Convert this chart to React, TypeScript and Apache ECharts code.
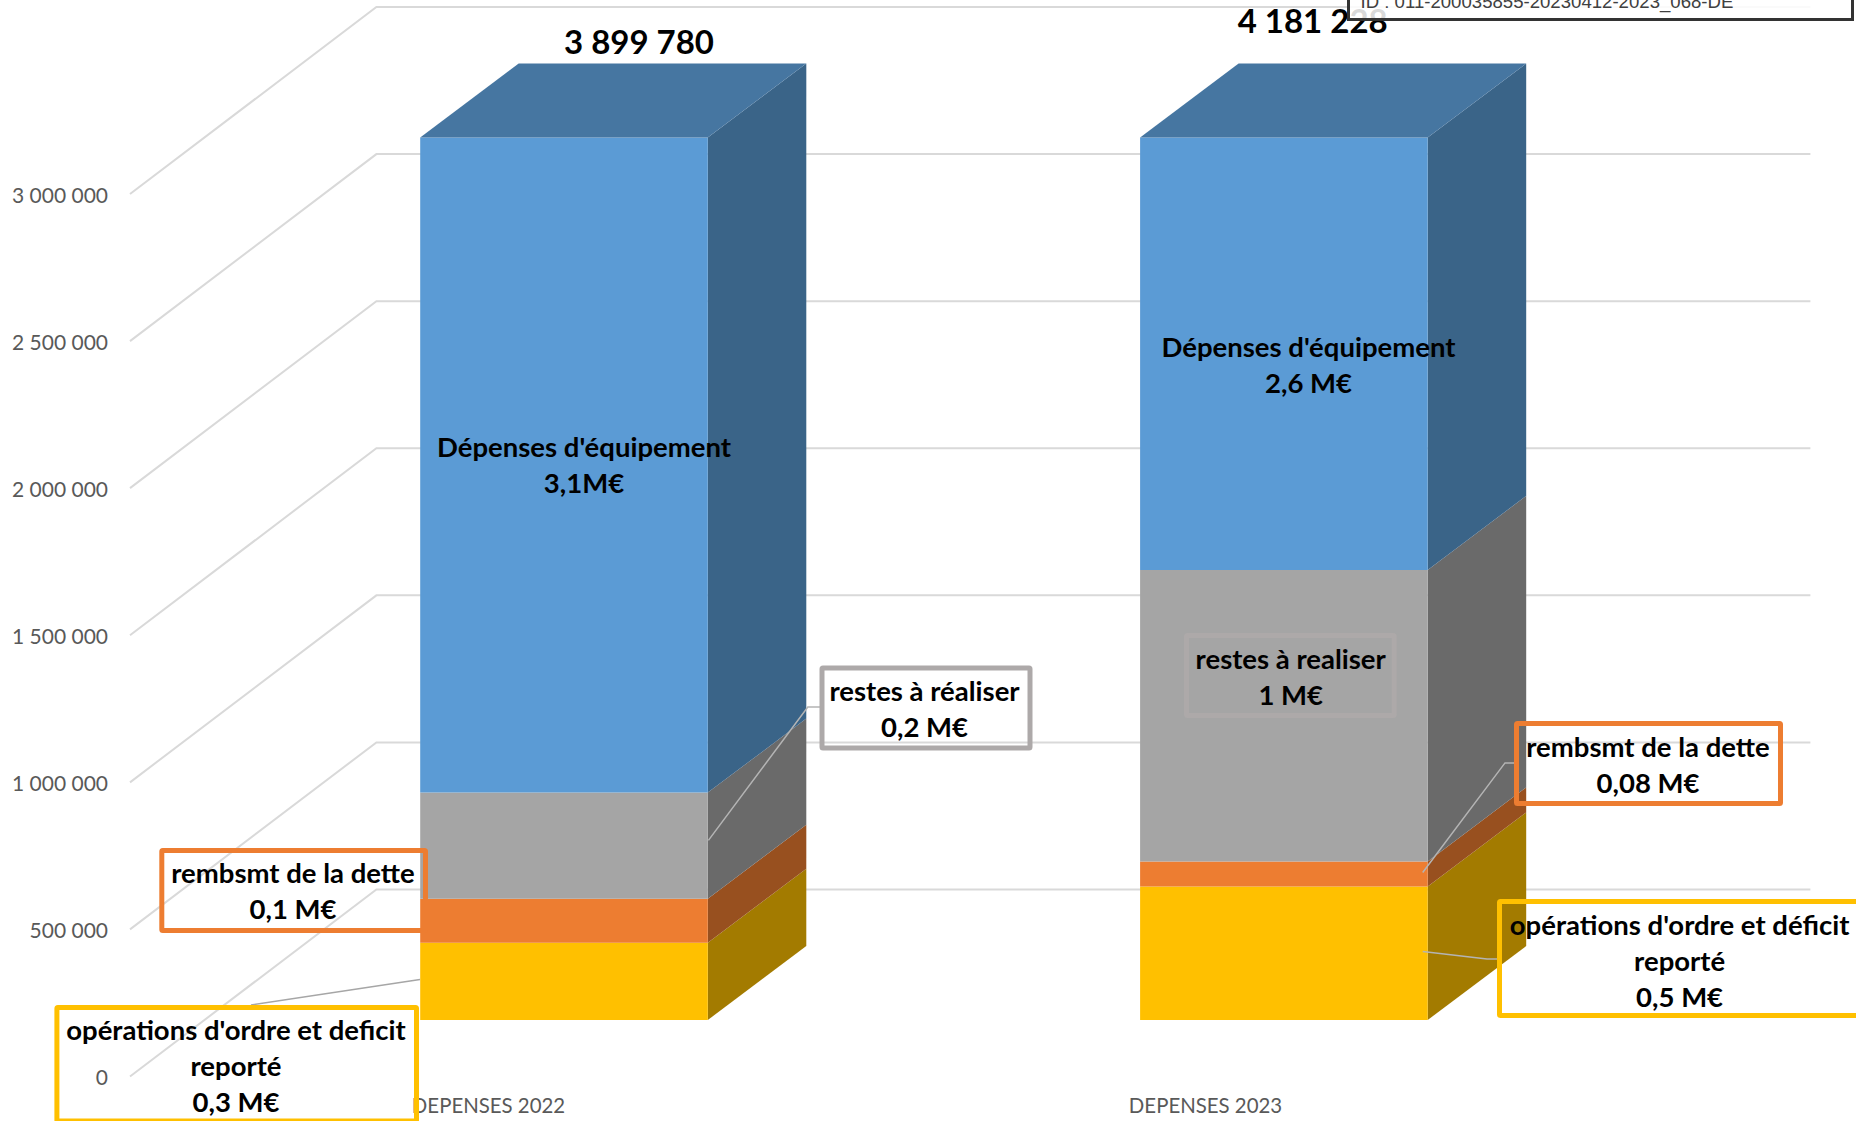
import React, { useEffect, useRef } from "react";
import * as echarts from "echarts";

const categories = ["DEPENSES 2022", "DEPENSES 2023"];
const yTicks = [0, 500000, 1000000, 1500000, 2000000, 2500000, 3000000];
const axisMax = 3000000;

const operations = [263000, 454000];
const remboursement = [149000, 85000];
const restes = [361000, 991000];
const equipement = [3126780, 2651228];
const totals = ["3 899 780", "4 181 228"];

const stackNames = ["opérations d'ordre et déficit reporté", "rembsmt de la dette", "restes à réaliser", "Dépenses d'équipement"];
const stackValues = [operations, remboursement, restes, equipement];
const frontColors = ["#FFC000", "#ED7D31", "#A5A5A5", "#5B9BD5"];
const sideColors = ["#A37B00", "#98501F", "#6A6A6A", "#3A6488"];
const topColor = "#4676A1";

const FONT = "Lato";
const GRID_COLOR = "#D9D9D9";
const WALL_DX = 246.4;
const WALL_DY = 187;
const BAR_SHIFT_X = [75.5, 78.4];
const BAR_SHIFT_Y = 56.5;
const BAR_HALF = 143.8;
const BAR_DX = 98.5;
const BAR_DY = 74;

const fmt = (v: number) => String(v).replace(/\B(?=(\d{3})+(?!\d))/g, " ");

function stackSeries(idx: number) {
  const data = categories.map((_, c) => {
    let base = 0;
    for (let i = 0; i < idx; i++) base += stackValues[i][c];
    return [c, Math.min(base, axisMax), Math.min(base + stackValues[idx][c], axisMax)];
  });
  return {
    type: "custom",
    name: stackNames[idx],
    silent: true,
    z: 3,
    encode: { x: 0, y: [1, 2] },
    data,
    renderItem: (_p: any, api: any) => {
      const c = api.value(0);
      const a = api.coord([c, api.value(1)]);
      const b = api.coord([c, api.value(2)]);
      const x0 = a[0] + BAR_SHIFT_X[c] - BAR_HALF;
      const x1 = a[0] + BAR_SHIFT_X[c] + BAR_HALF;
      const y0 = a[1] - BAR_SHIFT_Y;
      const y1 = b[1] - BAR_SHIFT_Y;
      const children: any[] = [
        {
          type: "polygon",
          shape: { points: [[x1, y0], [x1 + BAR_DX, y0 - BAR_DY], [x1 + BAR_DX, y1 - BAR_DY], [x1, y1]] },
          style: { fill: sideColors[idx] },
        },
        { type: "rect", shape: { x: x0, y: y1, width: x1 - x0, height: y0 - y1 }, style: { fill: frontColors[idx] } },
      ];
      if (idx === stackValues.length - 1) {
        children.push({
          type: "polygon",
          shape: { points: [[x0, y1], [x1, y1], [x1 + BAR_DX, y1 - BAR_DY], [x0 + BAR_DX, y1 - BAR_DY]] },
          style: { fill: topColor },
        });
      }
      return { type: "group", children };
    },
  };
}

const wallSeries = {
  type: "custom",
  name: "grille",
  silent: true,
  z: 1,
  encode: { x: 0, y: 1 },
  data: yTicks.map((t) => [0, t]),
  renderItem: (p: any, api: any) => {
    const y = api.coord([0, api.value(1)])[1];
    const s = p.coordSys;
    return {
      type: "polyline",
      shape: { points: [[s.x, y], [s.x + WALL_DX, y - WALL_DY], [s.x + s.width + WALL_DX, y - WALL_DY]] },
      style: { stroke: GRID_COLOR, lineWidth: 2, fill: "none" },
    };
  },
};

function box(x: number, y: number, w: number, h: number, color: string) {
  return { type: "rect", z: 10, shape: { x, y, width: w, height: h, r: 1 }, style: { fill: "none", stroke: color, lineWidth: 5 } };
}
function label(text: string, cx: number, cy: number, size = 27.5) {
  return {
    type: "text",
    z: 11,
    x: cx,
    y: cy - 1.5,
    style: { text, fontFamily: FONT, fontWeight: "bold", fontSize: size, lineHeight: 36, fill: "#000", align: "center", verticalAlign: "middle" },
  };
}
function leader(points: number[][], color = "#A6A6A6") {
  return { type: "polyline", z: 9, shape: { points }, style: { fill: "none", stroke: color, lineWidth: 1.5 } };
}

const graphics: any[] = [
  leader([[708.4, 840.4], [807.8, 707], [820, 707]], "#B4B4B4"),
  leader([[1422.7, 872.5], [1505, 762.9], [1516, 762.9]], "#B4B4B4"),
  leader([[420, 979.5], [251, 1005]]),
  leader([[1422.7, 951.4], [1487, 959], [1500, 959]], "#B4B4B4"),

  box(161.8, 850.5, 263.7, 80, "#ED7D31"),
  label("rembsmt de la dette\n0,1 M€", 293, 892),
  box(56.9, 1007.5, 359.6, 113.5, "#FFC000"),
  label("opérations d'ordre et deficit\nreporté\n0,3 M€", 236, 1067),
  box(822, 668, 208, 80, "#ADA9A9"),
  label("restes à réaliser\n0,2 M€", 924.5, 709.5),
  box(1186.5, 635.5, 207.7, 80, "#ADA9A9"),
  label("restes à realiser\n1 M€", 1290.7, 677.5),
  box(1516.5, 723.5, 264, 80, "#ED7D31"),
  label("rembsmt de la dette\n0,08 M€", 1648, 765.5),
  box(1499.5, 901.5, 400, 114, "#FFC000"),
  label("opérations d'ordre et déficit\nreporté\n0,5 M€", 1679.6, 961.5),
  label("Dépenses d'équipement\n3,1M€", 584, 465.5),
  label("Dépenses d'équipement\n2,6 M€", 1308.5, 365.5),
  label(totals[0], 639, 42, 33),
  label(totals[1], 1312.7, 21.7, 33),
  {
    type: "rect",
    z: 20,
    shape: { x: 1348.5, y: -10, width: 504, height: 29.5 },
    style: { fill: "rgba(255,255,255,0.85)", stroke: "#333333", lineWidth: 3 },
  },
  {
    type: "text",
    z: 21,
    x: 1360.5,
    y: 11,
    style: { text: "ID : 011-200035855-20230412-2023_068-DE", fontFamily: "Liberation Sans", fontSize: 18.6, fill: "#404040", align: "left", verticalAlign: "bottom" },
  },
];

export default function App() {
  const ref = useRef<HTMLDivElement>(null);
  useEffect(() => {
    const chart = echarts.init(ref.current!, undefined, { renderer: "svg" });
    chart.setOption({
      animation: false,
      backgroundColor: "#FFFFFF",
      grid: { left: 130, right: 292, top: 194, bottom: 44.5, containLabel: false },
      xAxis: {
        type: "category",
        data: categories,
        axisLine: { show: false },
        axisTick: { show: false },
        splitLine: { show: false },
        axisLabel: { color: "#595959", fontFamily: FONT, fontSize: 20.4, margin: 18 },
      },
      yAxis: {
        type: "value",
        min: 0,
        max: axisMax,
        interval: 500000,
        axisLine: { show: false },
        axisTick: { show: false },
        splitLine: { show: false },
        axisLabel: { color: "#595959", fontFamily: FONT, fontSize: 21, margin: 22, padding: [0, 0, 4, 0], formatter: (v: number) => fmt(v) },
      },
      series: [wallSeries, ...stackValues.map((_, i) => stackSeries(i))],
      graphic: graphics,
    });
    return () => chart.dispose();
  }, []);
  return <div ref={ref} style={{ position: "fixed", left: 0, top: 0, width: 1856, height: 1121 }} />;
}
